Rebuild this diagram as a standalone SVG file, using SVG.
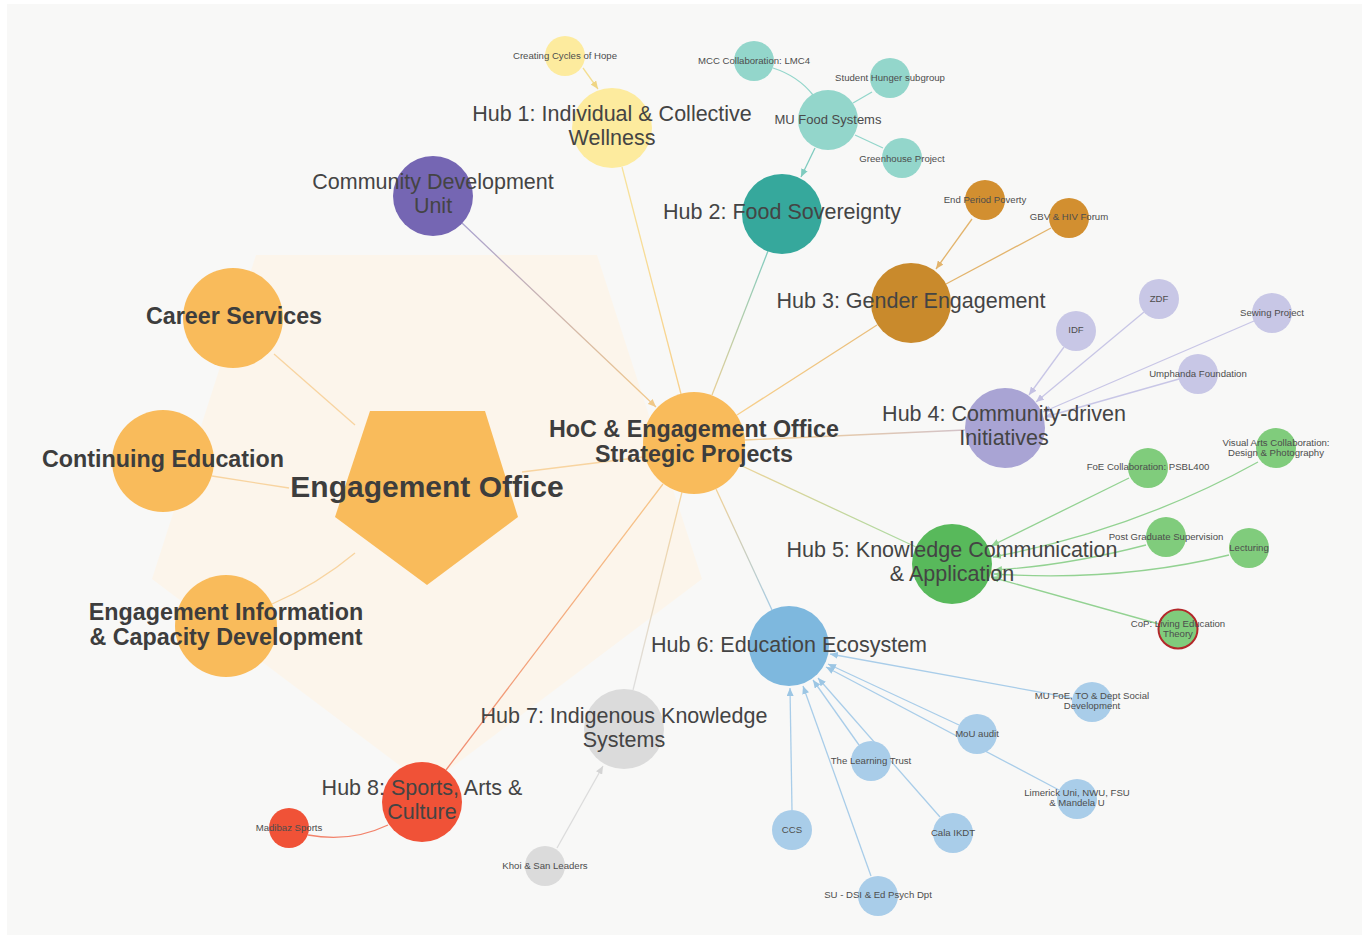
<svg xmlns="http://www.w3.org/2000/svg" width="1365" height="938" viewBox="0 0 1365 938">
<defs>
<style>
text{font-family:"Liberation Sans",Arial,sans-serif;text-anchor:middle;dominant-baseline:central}
.hub{font-size:21.5px;fill:#444}
.sm{font-size:9.6px;fill:#4d4d4d}
.md{font-size:13px;fill:#4a4a4a}
.bd{font-size:23.3px;font-weight:700;fill:#3d3d3d}
.big{font-size:30px;font-weight:700;fill:#3d3d3d}
.e{fill:none;stroke-width:1.3}
.o{fill:#f9bb5b}
</style>
<marker id="aY" viewBox="0 0 8 7" refX="8" refY="3.5" markerWidth="8" markerHeight="7" markerUnits="userSpaceOnUse" orient="auto"><path d="M0,0L8,3.5L0,7z" fill="#efd584"/></marker>
<marker id="aT" viewBox="0 0 8 7" refX="8" refY="3.5" markerWidth="8" markerHeight="7" markerUnits="userSpaceOnUse" orient="auto"><path d="M0,0L8,3.5L0,7z" fill="#7fcbbf"/></marker>
<marker id="aO" viewBox="0 0 8 7" refX="8" refY="3.5" markerWidth="8" markerHeight="7" markerUnits="userSpaceOnUse" orient="auto"><path d="M0,0L8,3.5L0,7z" fill="#e3b46c"/></marker>
<marker id="aL" viewBox="0 0 8 7" refX="8" refY="3.5" markerWidth="8" markerHeight="7" markerUnits="userSpaceOnUse" orient="auto"><path d="M0,0L8,3.5L0,7z" fill="#c3c0e2"/></marker>
<marker id="aG" viewBox="0 0 8 7" refX="8" refY="3.5" markerWidth="8" markerHeight="7" markerUnits="userSpaceOnUse" orient="auto"><path d="M0,0L8,3.5L0,7z" fill="#93d292"/></marker>
<marker id="aB" viewBox="0 0 8 7" refX="8" refY="3.5" markerWidth="8" markerHeight="7" markerUnits="userSpaceOnUse" orient="auto"><path d="M0,0L8,3.5L0,7z" fill="#9cc6e4"/></marker>
<marker id="aS" viewBox="0 0 8 7" refX="8" refY="3.5" markerWidth="8" markerHeight="7" markerUnits="userSpaceOnUse" orient="auto"><path d="M0,0L8,3.5L0,7z" fill="#d4d4d4"/></marker>
<marker id="aP" viewBox="0 0 8 7" refX="8" refY="3.5" markerWidth="8" markerHeight="7" markerUnits="userSpaceOnUse" orient="auto"><path d="M0,0L8,3.5L0,7z" fill="#f0c888"/></marker>
<linearGradient id="g1" gradientUnits="userSpaceOnUse" x1="681" y1="394" x2="622" y2="167"><stop offset="0" stop-color="#f8d08c"/><stop offset="1" stop-color="#f7e39c"/></linearGradient>
<linearGradient id="g2" gradientUnits="userSpaceOnUse" x1="712" y1="395" x2="768" y2="251"><stop offset="0" stop-color="#e8cf96"/><stop offset="1" stop-color="#7fcbbf"/></linearGradient>
<linearGradient id="g3" gradientUnits="userSpaceOnUse" x1="737" y1="415" x2="877" y2="325"><stop offset="0" stop-color="#f8d08c"/><stop offset="1" stop-color="#e9bd7a"/></linearGradient>
<linearGradient id="g4" gradientUnits="userSpaceOnUse" x1="745" y1="440" x2="965" y2="430"><stop offset="0" stop-color="#f3cf95"/><stop offset="1" stop-color="#d2c2c8"/></linearGradient>
<linearGradient id="g5" gradientUnits="userSpaceOnUse" x1="740" y1="465" x2="916" y2="547"><stop offset="0" stop-color="#ecd49a"/><stop offset="1" stop-color="#a8d9a0"/></linearGradient>
<linearGradient id="g6" gradientUnits="userSpaceOnUse" x1="716" y1="489" x2="772" y2="610"><stop offset="0" stop-color="#f2d196"/><stop offset="1" stop-color="#a5cbe4"/></linearGradient>
<linearGradient id="g7" gradientUnits="userSpaceOnUse" x1="682" y1="492" x2="633" y2="690"><stop offset="0" stop-color="#f3d39e"/><stop offset="1" stop-color="#dedede"/></linearGradient>
<linearGradient id="g8" gradientUnits="userSpaceOnUse" x1="663" y1="484" x2="446" y2="770"><stop offset="0" stop-color="#f7c88a"/><stop offset="1" stop-color="#f08a70"/></linearGradient>
<linearGradient id="gC" gradientUnits="userSpaceOnUse" x1="462" y1="223" x2="656" y2="407"><stop offset="0" stop-color="#a9a2cf"/><stop offset="1" stop-color="#f3c98a"/></linearGradient>
</defs>
<rect width="1365" height="938" fill="#ffffff"/>
<rect x="7" y="4" width="1355" height="931" fill="#f8f8f7"/>
<polygon points="256,255 597,255 702,579 427,786 152,579" fill="#fcf5eb"/>

<g id="connectors">
<line class="e" x1="274" y1="354" x2="355" y2="425" stroke="#f8d4a0"/>
<line class="e" x1="212" y1="476" x2="289" y2="488" stroke="#f8d4a0"/>
<path class="e" d="M272,604 Q318,584 355,553" stroke="#f8d4a0"/>
<line class="e" x1="522" y1="472" x2="643" y2="457" stroke="#f8d4a0"/>
<line class="e" x1="462" y1="223" x2="656" y2="407" stroke="url(#gC)" marker-end="url(#aP)"/>
<line class="e" x1="681" y1="394" x2="622" y2="167" stroke="url(#g1)"/>
<line class="e" x1="712" y1="395" x2="768" y2="251" stroke="url(#g2)"/>
<line class="e" x1="737" y1="415" x2="877" y2="325" stroke="url(#g3)"/>
<line class="e" x1="745" y1="440" x2="965" y2="430" stroke="url(#g4)"/>
<line class="e" x1="740" y1="465" x2="916" y2="547" stroke="url(#g5)"/>
<line class="e" x1="716" y1="489" x2="772" y2="610" stroke="url(#g6)"/>
<line class="e" x1="682" y1="492" x2="633" y2="690" stroke="url(#g7)"/>
<line class="e" x1="663" y1="484" x2="446" y2="770" stroke="url(#g8)"/>
<line class="e" x1="583" y1="68" x2="598" y2="89" stroke="#f3de93" marker-end="url(#aY)"/>
<path class="e" d="M773,68 Q798,76 813,95" stroke="#93d6cb"/>
<line class="e" x1="872" y1="92" x2="853" y2="103" stroke="#93d6cb"/>
<line class="e" x1="883" y1="148" x2="855" y2="135" stroke="#93d6cb"/>
<line class="e" x1="815" y1="148" x2="801" y2="177" stroke="#7fcbbf" marker-end="url(#aT)"/>
<line class="e" x1="972" y1="219" x2="936" y2="269" stroke="#e3b46c" marker-end="url(#aO)"/>
<line class="e" x1="1051" y1="228" x2="946" y2="284" stroke="#e3b46c"/>
<line class="e" x1="1064" y1="347" x2="1029" y2="395" stroke="#c8c6e6" marker-end="url(#aL)"/>
<line class="e" x1="1144" y1="312" x2="1036" y2="402" stroke="#c8c6e6" marker-end="url(#aL)"/>
<line class="e" x1="1254" y1="321" x2="1043" y2="412" stroke="#c8c6e6" marker-end="url(#aL)"/>
<line class="e" x1="1179" y1="379" x2="1045" y2="417" stroke="#c8c6e6" marker-end="url(#aL)"/>
<line class="e" x1="1129" y1="478" x2="991" y2="546" stroke="#93d292" marker-end="url(#aG)"/>
<path class="e" d="M1258,462 Q1135,530 993,557" stroke="#93d292" marker-end="url(#aG)"/>
<path class="e" d="M1146,545 Q1065,566 994,570" stroke="#93d292" marker-end="url(#aG)"/>
<path class="e" d="M1229,555 Q1120,582 994,574" stroke="#93d292" marker-end="url(#aG)"/>
<line class="e" x1="1159" y1="624" x2="991" y2="577" stroke="#93d292" marker-end="url(#aG)"/>
<line class="e" x1="1072" y1="698" x2="830" y2="654" stroke="#a9cde9" marker-end="url(#aB)"/>
<line class="e" x1="959" y1="725" x2="828" y2="664" stroke="#a9cde9" marker-end="url(#aB)"/>
<line class="e" x1="1059" y1="790" x2="826" y2="667" stroke="#a9cde9" marker-end="url(#aB)"/>
<line class="e" x1="859" y1="745" x2="813" y2="680" stroke="#a9cde9" marker-end="url(#aB)"/>
<line class="e" x1="940" y1="817" x2="818" y2="678" stroke="#a9cde9" marker-end="url(#aB)"/>
<line class="e" x1="792" y1="810" x2="790" y2="688" stroke="#a9cde9" marker-end="url(#aB)"/>
<line class="e" x1="871" y1="876" x2="803" y2="686" stroke="#a9cde9" marker-end="url(#aB)"/>
<line class="e" x1="557" y1="848" x2="603" y2="766" stroke="#dcdcdc" marker-end="url(#aS)"/>
<path class="e" d="M308,835 Q350,843 388,825" stroke="#f2826a"/>
</g>

<g id="engagement-office"><polygon points="370,411 485,411 518,517 427,585 335,517" class="o"/><text class="big" x="427" y="486">Engagement Office</text></g>
<g id="career-services"><circle cx="233" cy="318" r="50" class="o"/><text class="bd" x="234" y="316">Career Services</text></g>
<g id="continuing-education"><circle cx="163" cy="461" r="51" class="o"/><text class="bd" x="163" y="459">Continuing Education</text></g>
<g id="engagement-information"><circle cx="226" cy="626" r="51" class="o"/><text class="bd" x="226" y="612"><tspan x="226">Engagement Information</tspan><tspan x="226" dy="25">&amp; Capacity Development</tspan></text></g>
<g id="hoc"><circle cx="694" cy="443" r="51" class="o"/><text class="bd" x="694" y="429"><tspan x="694">HoC &amp; Engagement Office</tspan><tspan x="694" dy="25">Strategic Projects</tspan></text></g>

<g id="community-development-unit"><circle cx="433" cy="196" r="40" fill="#7566b3"/><text class="hub" x="433" y="182"><tspan x="433">Community Development</tspan><tspan x="433" dy="23.5">Unit</tspan></text></g>

<g id="hub1"><circle cx="612" cy="128" r="40" fill="#fdeb9e"/><text class="hub" x="612" y="114"><tspan x="612">Hub 1: Individual &amp; Collective</tspan><tspan x="612" dy="23.5">Wellness</tspan></text></g>
<g id="creating-cycles"><circle cx="565" cy="56" r="20" fill="#fdeb9e"/><text class="sm" x="565" y="55">Creating Cycles of Hope</text></g>

<g id="hub2"><circle cx="782" cy="214" r="40" fill="#36a89c"/><text class="hub" x="782" y="212">Hub 2: Food Sovereignty</text></g>
<g id="mu-food-systems"><circle cx="828" cy="120" r="30" fill="#93d6cb"/><text class="md" x="828" y="119">MU Food Systems</text></g>
<g id="mcc"><circle cx="754" cy="61" r="20" fill="#93d6cb"/><text class="sm" x="754" y="60">MCC Collaboration: LMC4</text></g>
<g id="student-hunger"><circle cx="890" cy="78" r="20" fill="#93d6cb"/><text class="sm" x="890" y="77">Student Hunger subgroup</text></g>
<g id="greenhouse"><circle cx="902" cy="158" r="20" fill="#93d6cb"/><text class="sm" x="902" y="158">Greenhouse Project</text></g>

<g id="hub3"><circle cx="911" cy="303" r="40" fill="#c98a2c"/><text class="hub" x="911" y="301">Hub 3: Gender Engagement</text></g>
<g id="end-period-poverty"><circle cx="985" cy="200" r="20" fill="#d28f30"/><text class="sm" x="985" y="199">End Period Poverty</text></g>
<g id="gbv"><circle cx="1069" cy="218" r="20" fill="#d28f30"/><text class="sm" x="1069" y="216">GBV &amp; HIV Forum</text></g>

<g id="hub4"><circle cx="1005" cy="428" r="40" fill="#a9a4d4"/><text class="hub" x="1004" y="414"><tspan x="1004">Hub 4: Community-driven</tspan><tspan x="1004" dy="23.5">Initiatives</tspan></text></g>
<g id="idf"><circle cx="1076" cy="331" r="20" fill="#c8c7e6"/><text class="sm" x="1076" y="329">IDF</text></g>
<g id="zdf"><circle cx="1159" cy="299" r="20" fill="#c8c7e6"/><text class="sm" x="1159" y="298">ZDF</text></g>
<g id="sewing"><circle cx="1272" cy="313" r="20" fill="#c8c7e6"/><text class="sm" x="1272" y="312">Sewing Project</text></g>
<g id="umphanda"><circle cx="1198" cy="374" r="20" fill="#c8c7e6"/><text class="sm" x="1198" y="373">Umphanda Foundation</text></g>

<g id="hub5"><circle cx="952" cy="564" r="40" fill="#58b95b"/><text class="hub" x="952" y="550"><tspan x="952">Hub 5: Knowledge Communication</tspan><tspan x="952" dy="23.5">&amp; Application</tspan></text></g>
<g id="foe"><circle cx="1148" cy="468" r="20" fill="#80cc7c"/><text class="sm" x="1148" y="466">FoE Collaboration: PSBL400</text></g>
<g id="visual-arts"><circle cx="1276" cy="448" r="20" fill="#80cc7c"/><text class="sm" x="1276" y="442"><tspan x="1276">Visual Arts Collaboration:</tspan><tspan x="1276" dy="10">Design &amp; Photography</tspan></text></g>
<g id="post-grad"><circle cx="1166" cy="537" r="20" fill="#80cc7c"/><text class="sm" x="1166" y="536">Post Graduate Supervision</text></g>
<g id="lecturing"><circle cx="1249" cy="548" r="20" fill="#80cc7c"/><text class="sm" x="1249" y="547">Lecturing</text></g>
<g id="cop"><circle cx="1178" cy="629" r="19.5" fill="#80cc7c" stroke="#b3282a" stroke-width="2"/><text class="sm" x="1178" y="623"><tspan x="1178">CoP: Living Education</tspan><tspan x="1178" dy="10">Theory</tspan></text></g>

<g id="hub6"><circle cx="789" cy="646" r="40" fill="#7eb8de"/><text class="hub" x="789" y="645">Hub 6: Education Ecosystem</text></g>
<g id="mu-foe"><circle cx="1092" cy="702" r="20" fill="#a9cde9"/><text class="sm" x="1092" y="695"><tspan x="1092">MU FoE, TO &amp; Dept Social</tspan><tspan x="1092" dy="10">Development</tspan></text></g>
<g id="mou"><circle cx="977" cy="734" r="20" fill="#a9cde9"/><text class="sm" x="977" y="733">MoU audit</text></g>
<g id="limerick"><circle cx="1077" cy="799" r="20" fill="#a9cde9"/><text class="sm" x="1077" y="792"><tspan x="1077">Limerick Uni, NWU, FSU</tspan><tspan x="1077" dy="10">&amp; Mandela U</tspan></text></g>
<g id="learning-trust"><circle cx="871" cy="761" r="20" fill="#a9cde9"/><text class="sm" x="871" y="760">The Learning Trust</text></g>
<g id="cala"><circle cx="953" cy="833" r="20" fill="#a9cde9"/><text class="sm" x="953" y="832">Cala IKDT</text></g>
<g id="ccs"><circle cx="792" cy="830" r="20" fill="#a9cde9"/><text class="sm" x="792" y="829">CCS</text></g>
<g id="su"><circle cx="878" cy="896" r="20" fill="#a9cde9"/><text class="sm" x="878" y="894">SU - DSI &amp; Ed Psych Dpt</text></g>

<g id="hub7"><circle cx="624" cy="729" r="40" fill="#dbdbdb"/><text class="hub" x="624" y="716"><tspan x="624">Hub 7: Indigenous Knowledge</tspan><tspan x="624" dy="23.5">Systems</tspan></text></g>
<g id="khoi-san"><circle cx="545" cy="866" r="20" fill="#dbdbdb"/><text class="sm" x="545" y="865">Khoi &amp; San Leaders</text></g>

<g id="hub8"><circle cx="422" cy="802" r="40" fill="#f05237"/><text class="hub" x="422" y="788"><tspan x="422">Hub 8: Sports, Arts &amp;</tspan><tspan x="422" dy="23.5">Culture</tspan></text></g>
<g id="madibaz"><circle cx="289" cy="828" r="20" fill="#f05237"/><text class="sm" x="289" y="827">Madibaz Sports</text></g>
</svg>
